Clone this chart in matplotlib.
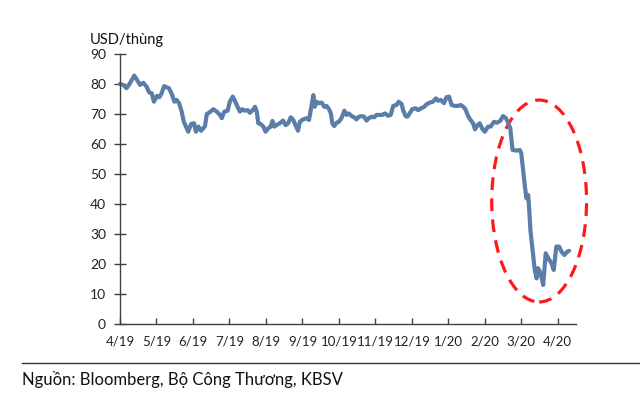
import matplotlib
matplotlib.use("Agg")
import matplotlib.pyplot as plt
from matplotlib.patches import Ellipse

# Time in months since April 2019, price in USD/barrel
months = [0.00, 0.09, 0.18, 0.27, 0.39, 0.48, 0.55, 0.64, 0.73, 0.80, 0.87, 0.93,
          1.01, 1.08, 1.14, 1.21, 1.28, 1.34, 1.42, 1.49, 1.55, 1.62, 1.69, 1.75,
          1.83, 1.87, 1.95, 2.03, 2.08, 2.15, 2.22, 2.28, 2.33, 2.38, 2.44, 2.56,
          2.65, 2.74, 2.79, 2.86, 2.95, 3.01, 3.09, 3.15, 3.21, 3.29, 3.35, 3.42,
          3.50, 3.56, 3.64, 3.70, 3.75, 3.79, 3.85, 3.93, 3.99, 4.06, 4.13, 4.18,
          4.23, 4.29, 4.38, 4.47, 4.54, 4.61, 4.68, 4.75, 4.81, 4.88, 4.93, 5.02,
          5.12, 5.18, 5.23, 5.30, 5.34, 5.39, 5.45, 5.53, 5.60, 5.66, 5.73, 5.78,
          5.82, 5.87, 5.94, 6.00, 6.07, 6.15, 6.21, 6.27, 6.35, 6.42, 6.48, 6.55,
          6.62, 6.69, 6.76, 6.82, 6.90, 6.97, 7.03, 7.12, 7.19, 7.26, 7.35, 7.42,
          7.49, 7.58, 7.64, 7.72, 7.76, 7.83, 7.88, 7.95, 8.01, 8.10, 8.17, 8.25,
          8.34, 8.40, 8.49, 8.58, 8.66, 8.72, 8.79, 8.88, 8.95, 9.02, 9.09, 9.18,
          9.27, 9.34, 9.41, 9.47, 9.53, 9.59, 9.68, 9.73, 9.80, 9.86, 9.94, 10.00,
          10.09, 10.16, 10.25, 10.34, 10.43, 10.50, 10.58, 10.64, 10.70, 10.76,
          10.87, 10.96, 11.00, 11.05, 11.10, 11.14, 11.19, 11.21, 11.25, 11.31,
          11.37, 11.42, 11.46, 11.51, 11.55, 11.60, 11.67, 11.74, 11.83, 11.89,
          11.96, 12.04, 12.10, 12.18, 12.26, 12.31]
price = [80.0, 79.7, 78.6, 80.2, 82.8, 81.1, 79.7, 80.4, 79.1, 77.2, 76.9, 74.1,
         76.0, 75.6, 76.9, 79.3, 78.9, 78.6, 76.7, 74.1, 74.7, 73.6, 70.8, 67.4,
         65.2, 64.1, 66.7, 66.9, 64.1, 65.8, 64.4, 65.2, 66.0, 70.0, 70.4, 71.6,
         70.8, 69.7, 68.6, 70.8, 71.1, 74.1, 75.8, 74.4, 72.7, 70.8, 71.6, 71.1,
         71.3, 70.4, 71.3, 72.4, 70.8, 66.9, 66.7, 65.8, 64.1, 65.2, 65.8, 67.7,
         65.8, 66.3, 66.9, 67.8, 66.3, 66.9, 68.9, 68.0, 66.3, 64.4, 67.4, 68.2,
         68.6, 68.0, 71.3, 76.3, 72.4, 74.1, 73.6, 73.8, 72.4, 72.7, 71.6, 70.2,
         66.9, 66.0, 67.1, 67.4, 68.6, 71.1, 69.7, 70.2, 69.3, 68.9, 68.2, 69.1,
         69.3, 69.1, 67.8, 68.6, 69.1, 68.9, 69.7, 69.7, 69.7, 70.2, 69.4, 69.7,
         72.7, 73.0, 74.1, 73.3, 71.3, 69.3, 69.1, 70.4, 71.6, 71.9, 71.3, 71.9,
         72.4, 73.2, 73.8, 74.1, 75.2, 74.4, 74.7, 73.6, 75.6, 75.8, 73.0, 72.7,
         72.7, 73.0, 72.4, 71.6, 69.7, 68.3, 66.9, 64.9, 66.3, 66.9, 64.9, 64.1,
         65.8, 65.8, 67.4, 67.1, 67.8, 69.3, 68.6, 67.1, 65.2, 58.0,
         57.8, 58.0, 56.9, 51.3, 45.8, 41.9, 43.0, 39.7, 31.3, 24.7,
         18.0, 15.2, 18.6, 17.4, 15.8, 13.0, 23.6, 21.9, 20.2, 18.0,
         25.8, 25.8, 24.1, 23.0, 24.1, 24.4]

tick_labels = ["4/19", "5/19", "6/19", "7/19", "8/19", "9/19", "10/19", "11/19",
               "12/19", "1/20", "2/20", "3/20", "4/20"]
y_ticks = [0, 10, 20, 30, 40, 50, 60, 70, 80, 90]
unit_label = "USD/thùng"
source_text = "Nguồn: Bloomberg, Bộ Công Thương, KBSV"

plt.rcParams['font.family'] = ['Lato', 'DejaVu Sans']

fig = plt.figure(figsize=(6.4, 3.95), dpi=100)
ax = fig.add_axes([120/640, 71/395, 456/640, 270/395])

ax.plot(months, price, color="#5b7ea8", lw=3.0, solid_joinstyle="round",
        solid_capstyle="round", clip_on=False)

ax.set_xlim(0, 12.5)
ax.set_ylim(0, 90)
ax.set_xticks(range(len(tick_labels)))
ax.set_xticklabels(tick_labels)
ax.set_yticks(y_ticks)

for s in ["top", "right"]:
    ax.spines[s].set_visible(False)
for s in ["left", "bottom"]:
    ax.spines[s].set_color("#404040")
    ax.spines[s].set_linewidth(1.0)

ax.tick_params(axis="y", direction="inout", length=8, width=1, color="#404040",
               labelsize=10, labelcolor="#222222", pad=6)
ax.tick_params(axis="x", direction="in", length=4, width=1, color="#404040",
               labelsize=9.5, labelcolor="#222222", pad=8)

ell = Ellipse((11.49, 41), 2.6, 67.3, fill=False, edgecolor="#ff1a1a",
              lw=2.3, linestyle=(0, (4, 2.6)), clip_on=False)
ax.add_patch(ell)

fig.text(90/640, 1 - 40/395, unit_label, ha="left", va="center", fontsize=10.5,
         color="#111111")

fig.add_artist(plt.Line2D([22/640, 1.0], [1 - 363/395, 1 - 363/395],
                          color="#333333", lw=1.0, transform=fig.transFigure))
fig.text(22/640, 1 - 379/395, source_text, ha="left", va="center",
         fontsize=12, color="#111111")

fig.savefig("out.png", dpi=100)
